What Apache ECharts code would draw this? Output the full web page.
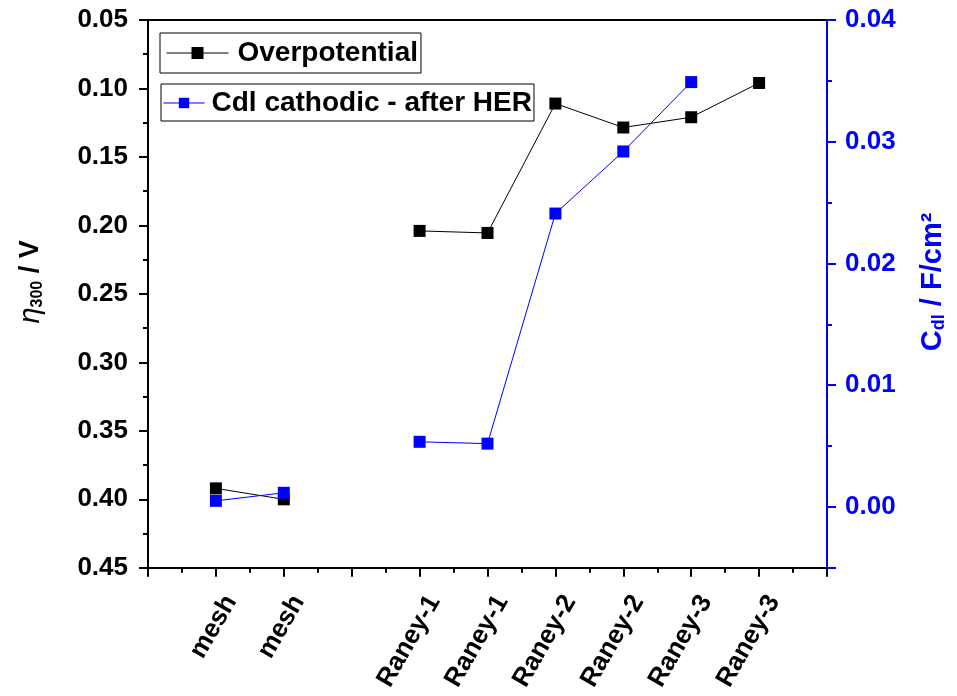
<!DOCTYPE html>
<html>
<head>
<meta charset="utf-8">
<script src="https://cdn.jsdelivr.net/npm/echarts/dist/echarts.min.js"></script>
<style>
html,body{margin:0;padding:0;background:#fff;}
#chart{width:957px;height:696px;}
</style>
</head>
<body>
<div id="chart"></div>
<script>
// ---- data ----
const xTickLabels = ['', 'mesh', 'mesh', '', 'Raney-1', 'Raney-1', 'Raney-2', 'Raney-2', 'Raney-3', 'Raney-3', ''];
const xPositions = [1, 2, 3, 4, 5, 6, 7, 8, 9];
const overpotential = [0.392, 0.400, null, 0.204, 0.2055, 0.111, 0.1285, 0.121, 0.096];
const cdlCathodic = [0.0005, 0.00116, null, 0.00535, 0.0052, 0.0241, 0.0292, 0.0349, null];
const seriesNames = ['Overpotential', 'Cdl cathodic - after HER'];

const FONT = '"Liberation Sans", Arial, sans-serif';
const BLUE = '#0000ff';

function pairs(vals) {
  return xPositions.map((x, i) => [x, vals[i] == null ? '-' : vals[i]]);
}

const chart = echarts.init(document.getElementById('chart'), null, {renderer: 'canvas'});
chart.setOption({
  animation: false,
  backgroundColor: '#fff',
  grid: {left: 148, right: 130, top: 20, bottom: 128, containLabel: false},
  legend: [
    {
      data: [seriesNames[0]], left: 160, top: 33, orient: 'horizontal',
      borderColor: '#000', borderWidth: 1, padding: [6, 3, 6, 6],
      itemWidth: 62, itemHeight: 15,
      lineStyle: {width: 1},
      textStyle: {fontFamily: FONT, fontSize: 28, fontWeight: 'bold', color: '#000', padding: [0, 0, 0, 4]}
    },
    {
      data: [seriesNames[1]], left: 161, top: 84, orient: 'horizontal',
      borderColor: '#000', borderWidth: 1, padding: [5, 2, 4, 2],
      itemWidth: 41, itemHeight: 13,
      lineStyle: {width: 1},
      textStyle: {fontFamily: FONT, fontSize: 28, fontWeight: 'bold', color: '#000', padding: [0, 0, 0, 2]}
    }
  ],
  xAxis: [
    {
      type: 'value', min: 0, max: 10, interval: 1, position: 'bottom',
      axisLine: {show: true, onZero: false, lineStyle: {color: '#000', width: 2}},
      axisTick: {show: true, inside: false, length: 9, lineStyle: {color: '#000', width: 2}},
      minorTick: {show: true, splitNumber: 2, length: 5, lineStyle: {color: '#000', width: 2}},
      splitLine: {show: false}, minorSplitLine: {show: false},
      axisLabel: {
        rotate: 60, margin: 21, align: 'right', verticalAlign: 'top', lineHeight: 34,
        fontFamily: FONT, fontSize: 26, fontWeight: 'bold', color: '#000',
        formatter: v => xTickLabels[Math.round(v)] || ''
      }
    },
    {
      type: 'value', min: 0, max: 10, position: 'top',
      axisLine: {show: true, onZero: false, lineStyle: {color: '#000', width: 2}},
      axisTick: {show: false}, axisLabel: {show: false}, splitLine: {show: false}
    }
  ],
  yAxis: [
    {
      type: 'value', inverse: true, min: 0.05, max: 0.45, interval: 0.05, position: 'left',
      axisLine: {show: true, onZero: false, lineStyle: {color: '#000', width: 2}},
      axisTick: {show: true, inside: false, length: 9, lineStyle: {color: '#000', width: 2}},
      minorTick: {show: true, splitNumber: 2, length: 5, lineStyle: {color: '#000', width: 2}},
      splitLine: {show: false}, minorSplitLine: {show: false},
      axisLabel: {margin: 20, fontFamily: FONT, fontSize: 26, fontWeight: 'bold', color: '#000',
        formatter: v => v.toFixed(2)},
      name: '{eta|η}{sub|300}{n| / V}',
      nameLocation: 'middle', nameRotate: 90, nameGap: 102,
      nameTextStyle: {
        fontFamily: FONT, fontSize: 27, fontWeight: 'bold', color: '#000',
        padding: [0, 0, 0, 24],
        rich: {
          eta: {fontFamily: FONT, fontSize: 29, fontStyle: 'italic', fontWeight: 'normal', color: '#000'},
          sub: {fontFamily: FONT, fontSize: 16, fontWeight: 'bold', color: '#000', verticalAlign: 'bottom', lineHeight: 30},
          n: {fontFamily: FONT, fontSize: 27, fontWeight: 'bold', color: '#000'}
        }
      }
    },
    {
      type: 'value', min: -0.005, max: 0.04, splitNumber: 5, position: 'right',
      axisLine: {show: true, onZero: false, lineStyle: {color: BLUE, width: 2}},
      axisTick: {show: true, inside: false, length: 9, lineStyle: {color: BLUE, width: 2}},
      minorTick: {show: true, splitNumber: 2, length: 5, lineStyle: {color: BLUE, width: 2}},
      splitLine: {show: false}, minorSplitLine: {show: false},
      axisLabel: {margin: 18, fontFamily: FONT, fontSize: 26, fontWeight: 'bold', color: BLUE,
        showMinLabel: false,
        formatter: v => (v < -0.001 ? '' : v.toFixed(2))},
      name: '{c|C}{sub|dl}{n| / F/cm²}',
      nameLocation: 'middle', nameRotate: 90, nameGap: 90,
      nameTextStyle: {
        fontFamily: FONT, fontSize: 29, fontWeight: 'bold', color: BLUE,
        padding: [0, 0, 0, 24],
        rich: {
          c: {fontFamily: FONT, fontSize: 29, fontWeight: 'bold', color: BLUE},
          sub: {fontFamily: FONT, fontSize: 18, fontWeight: 'bold', color: BLUE, verticalAlign: 'bottom', lineHeight: 31},
          n: {fontFamily: FONT, fontSize: 29, fontWeight: 'bold', color: BLUE}
        }
      }
    }
  ],
  series: [
    {
      name: seriesNames[0], type: 'line', xAxisIndex: 0, yAxisIndex: 0,
      data: pairs(overpotential), connectNulls: false,
      symbol: 'rect', symbolSize: 12,
      itemStyle: {color: '#000'}, lineStyle: {color: '#000', width: 1}, z: 2
    },
    {
      name: seriesNames[1], type: 'line', xAxisIndex: 0, yAxisIndex: 1,
      data: pairs(cdlCathodic), connectNulls: false,
      symbol: 'rect', symbolSize: 12,
      itemStyle: {color: BLUE}, lineStyle: {color: BLUE, width: 1}, z: 3
    }
  ]
});
</script>
</body>
</html>
